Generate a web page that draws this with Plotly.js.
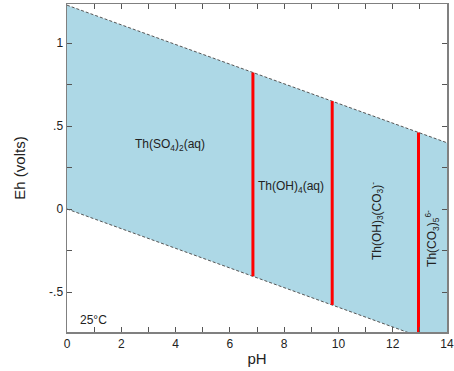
<!DOCTYPE html>
<html><head><meta charset="utf-8">
<script src="https://cdn.plot.ly/plotly-3.0.1.min.js"></script>
<style>html,body{margin:0;padding:0;background:#fff}#c{width:454px;height:371px}</style>
</head><body><div id="c"></div>
<script>
// water stability limits
const phEnds = [0, 14];
const upperEh = [1.228, 0.399];
const lowerEh = [0.0, -0.829];
// predominance boundaries
const boundaryPH = [6.85, 9.77, 12.95];
const boundaryTop = [0.822, 0.650, 0.461];
const boundaryBottom = [-0.405, -0.578, -0.767];
// field labels
const labelText = ["Th(SO<sub>4</sub>)<sub>2</sub>(aq)", "Th(OH)<sub>4</sub>(aq)", "Th(OH)<sub>3</sub>(CO<sub>3</sub>)<sup>-</sup>", "Th(CO<sub>3</sub>)<sub>5</sub><sup>6-</sup>"];
const labelPH = [3.78, 8.25, 11.4, 13.45];
const labelEh = [0.385, 0.133, -0.07, -0.18];
const labelAngle = [0, 0, -90, -90];
// ticks
const xTickVals = [0,1,2,3,4,5,6,7,8,9,10,11,12,13,14];
const xTickText = ["0","","2","","4","","6","","8","","10","","12","","14"];
const yTickVals = [-0.5,-0.25,0,0.25,0.5,0.75,1];
const yTickText = ["-.5","","0","",".5","","1"];

const traces = [
  {x: phEnds, y: lowerEh, mode: 'lines', line: {color: '#555', width: 1, dash: '3px,2px'}, hoverinfo: 'skip'},
  {x: phEnds, y: upperEh, mode: 'lines', fill: 'tonexty', fillcolor: '#add8e6', line: {color: '#555', width: 1, dash: '3px,2px'}, hoverinfo: 'skip'}
];
boundaryPH.forEach((p, i) => {
  traces.push({x: [p, p], y: [boundaryBottom[i], boundaryTop[i]], mode: 'lines', line: {color: '#ff0000', width: 3}, hoverinfo: 'skip'});
});

const annotations = labelText.map((t, i) => ({
  x: labelPH[i], y: labelEh[i], text: t, showarrow: false, textangle: labelAngle[i],
  font: {family: 'Liberation Sans, Arial, sans-serif', size: 12, color: '#222'}
}));
annotations.push({x: 0.96, y: -0.67, text: '25°C', showarrow: false,
  font: {family: 'Liberation Sans, Arial, sans-serif', size: 12, color: '#222'}});

const axisCommon = {
  showgrid: false, zeroline: false, showline: true, linecolor: '#808080', linewidth: 1.5,
  mirror: 'ticks', ticks: 'inside', ticklen: 5, tickcolor: '#555', tickwidth: 1,
  tickfont: {family: 'Liberation Sans, Arial, sans-serif', size: 12, color: '#222'}
};

const layout = {
  width: 454, height: 371,
  margin: {l: 67, r: 7, t: 4, b: 39},
  showlegend: false,
  paper_bgcolor: '#fff', plot_bgcolor: '#fff',
  xaxis: Object.assign({}, axisCommon, {range: [0, 14], tickmode: 'array', tickvals: xTickVals, ticktext: xTickText,
    title: {text: 'pH', font: {family: 'Liberation Sans, Arial, sans-serif', size: 15, color: '#222'}, standoff: 3}}),
  yaxis: Object.assign({}, axisCommon, {range: [-0.741, 1.235], tickmode: 'array', tickvals: yTickVals, ticktext: yTickText,
    title: {text: 'Eh (volts)', font: {family: 'Liberation Sans, Arial, sans-serif', size: 15, color: '#222'}, standoff: 20}}),
  annotations: annotations
};
Plotly.newPlot('c', traces, layout, {displayModeBar: false, staticPlot: true});
</script></body></html>
